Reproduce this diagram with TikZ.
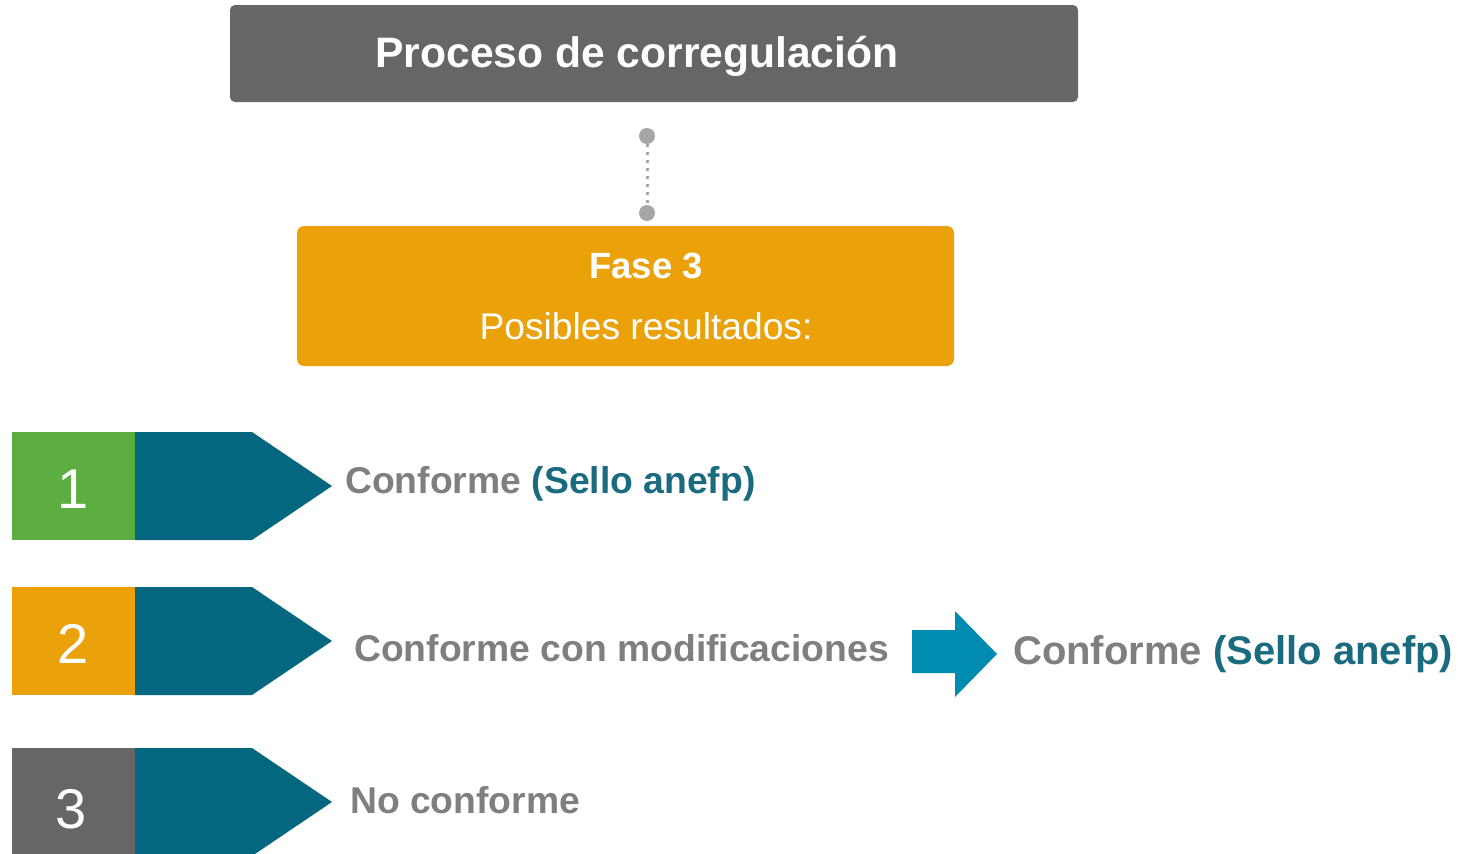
\documentclass[tikz,border=0pt]{standalone}
\usepackage{fontspec}
\setmainfont{Liberation Sans}
\definecolor{titlegrey}{HTML}{666666}
\definecolor{phaseorange}{HTML}{EBA10A}
\definecolor{numgreen}{HTML}{5DAE41}
\definecolor{darkteal}{HTML}{04677F}
\definecolor{textgrey}{HTML}{7F7F7F}
\definecolor{labelteal}{HTML}{1B6B80}
\definecolor{arrowblue}{HTML}{008BB0}
\definecolor{dotgrey}{HTML}{A6A6A6}
\tikzset{
  numbox/.style={fill=#1, draw=none},
  chevron/.style={fill=darkteal, draw=none},
  lbl/.style={anchor=base west, inner sep=0pt, text=textgrey, font=\fontsize{37.3}{37.3}\selectfont\bfseries},
  numlbl/.style={anchor=base, inner sep=0pt, text=white, font=\fontsize{56}{56}\selectfont},
}
\begin{document}
\begin{tikzpicture}[x=1pt,y=-1pt]
\useasboundingbox (0,0) rectangle (1468,854);
% title
\node[fill=titlegrey, rounded corners=5pt, minimum width=848pt, minimum height=97pt, inner sep=0pt] (title) at (654,53.5) {};
\node[anchor=base, inner sep=0pt, text=white, font=\fontsize{42.6}{42.6}\selectfont\bfseries] (titletxt) at (637,67) {Proceso de corregulación};
% connector
\coordinate (dot1) at (647,136);
\coordinate (dot2) at (647,213);
\draw[dotgrey, line width=3pt, dash pattern=on 3pt off 5pt] (dot1) -- (dot2);
\fill[dotgrey] (dot1) circle (8pt);
\fill[dotgrey] (dot2) circle (8pt);
% phase box
\node[fill=phaseorange, rounded corners=7pt, minimum width=657pt, minimum height=140pt, inner sep=0pt] (fase) at (625.5,296) {};
\node[anchor=base, inner sep=0pt, text=white, font=\fontsize{36.5}{36.5}\selectfont\bfseries] (fasetxt) at (646,278) {Fase 3};
\node[anchor=base, inner sep=0pt, text=white, font=\fontsize{37.2}{37.2}\selectfont] (postxt) at (646,339) {Posibles resultados:};
% row 1
\fill[numbox=numgreen] (12,432) rectangle (135,540);
\fill[chevron] (135,432) -- (252,432) -- (332,486) -- (252,540) -- (135,540) -- cycle;
\node[numlbl] (n1) at (73,508) {1};
\node[lbl] (t1) at (345,493) {Conforme \textcolor{labelteal}{(Sello anefp)}};
% row 2
\fill[numbox=phaseorange] (12,587) rectangle (135,695);
\fill[chevron] (135,587) -- (252,587) -- (332,641) -- (252,695) -- (135,695) -- cycle;
\node[numlbl] (n2) at (73,663) {2};
\node[lbl] (t2) at (354,661) {Conforme con modificaciones};
\fill[arrowblue] (912,630) -- (955,630) -- (955,611) -- (997,654) -- (955,697) -- (955,673) -- (912,673) -- cycle;
\node[lbl, font=\fontsize{40}{40}\selectfont\bfseries] (t2b) at (1013,664) {Conforme \textcolor{labelteal}{(Sello anefp)}};
% row 3
\fill[numbox=titlegrey] (12,748) rectangle (135,856);
\fill[chevron] (135,748) -- (252,748) -- (332,802) -- (252,856) -- (135,856) -- cycle;
\node[numlbl] (n3) at (71,828) {3};
\node[lbl] (t3) at (350,813) {No conforme};
\end{tikzpicture}
\end{document}
